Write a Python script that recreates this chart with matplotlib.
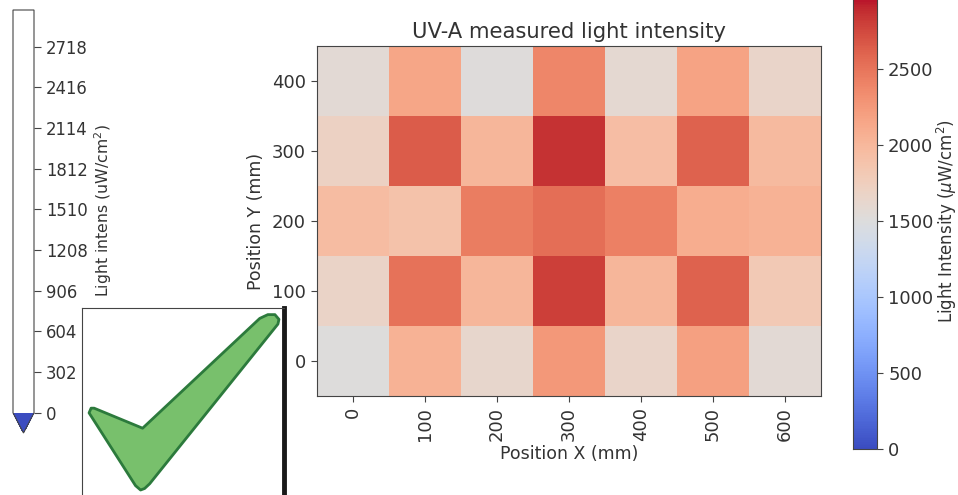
import numpy as np
import matplotlib
matplotlib.use("Agg")
import matplotlib.pyplot as plt
from matplotlib.colors import ListedColormap, Normalize
from matplotlib.cm import ScalarMappable
from matplotlib.patches import Polygon

x_pos = [0, 100, 200, 300, 400, 500, 600]
y_pos = [0, 100, 200, 300, 400]
# rows go from y=0 upwards
intensity = np.array([
    [1500, 2040, 1640, 2260, 1660, 2200, 1560],
    [1670, 2510, 2010, 2800, 2010, 2610, 1810],
    [1950, 1890, 2440, 2540, 2420, 2090, 2040],
    [1710, 2640, 2010, 2850, 1940, 2610, 1970],
    [1570, 2150, 1520, 2380, 1590, 2170, 1660],
])
main_ticks = [0, 500, 1000, 1500, 2000, 2500, 3000]
left_ticks = [0, 302, 604, 906, 1208, 1510, 1812, 2114, 2416, 2718]
check_x = [0.035, 0.045, 0.06, 0.30, 0.88, 0.92, 0.955, 0.975, 0.97, 0.335, 0.31, 0.29, 0.265, 0.035]
check_y = [0.445, 0.47, 0.47, 0.364, 0.945, 0.965, 0.965, 0.94, 0.915, 0.07, 0.045, 0.037, 0.06, 0.445]

W, H = 958, 495
TXT = "#333333"
plt.rcParams.update({"text.color": TXT, "axes.labelcolor": TXT, "xtick.labelcolor": TXT,
                     "ytick.labelcolor": TXT, "axes.edgecolor": "#444444",
                     "xtick.color": "#444444", "ytick.color": "#444444"})


def box(x0, y0, x1, y1):
    # pixel box (top-left origin) to figure fractions
    return [x0 / W, 1 - y1 / H, (x1 - x0) / W, (y1 - y0) / H]


fig = plt.figure(figsize=(W / 100, H / 100), dpi=100)

ax = fig.add_axes(box(317, 46, 821, 396))
im = ax.imshow(intensity, origin="lower", cmap="coolwarm", vmin=0, vmax=3000,
               extent=[-50, 650, -50, 450], aspect="auto")
ax.set_xticks(x_pos)
ax.set_xticklabels(x_pos, rotation=90, fontsize=13)
ax.set_yticks(y_pos)
ax.set_yticklabels(y_pos, fontsize=13)
ax.tick_params(length=4.5)
ax.set_xlabel("Position X (mm)", fontsize=12.5, labelpad=3)
ax.set_ylabel("Position Y (mm)", fontsize=12.5, labelpad=5)
ax.set_title("UV-A measured light intensity", fontsize=15.2, pad=6)

cax = fig.add_axes(box(853, -7, 877, 449))
cb = fig.colorbar(im, cax=cax, ticks=main_ticks)
cb.ax.tick_params(labelsize=13, length=4.5)
cb.set_label(r"Light Intensity ($\mu$W/cm$^2$)", fontsize=12, labelpad=1)

# left colorbar, everything above zero is white
left_cmap = ListedColormap(["white"])
left_cmap.set_under("#3b4cc0")
lax = fig.add_axes(box(13, 10, 34, 433))
lcb = fig.colorbar(ScalarMappable(Normalize(0, 2990), left_cmap), cax=lax, extend="min",
                   extendfrac=0.05, ticks=left_ticks)
lcb.ax.tick_params(labelsize=11.9, length=5)
fig.text(103 / W, 1 - 297 / H, "Light intens (uW/cm$^2$)", rotation=90, fontsize=11.3,
         ha="center", va="bottom")

# check mark picture laid over the corner
chk = fig.add_axes(box(82, 308, 284, 497), zorder=5)
chk.set_xlim(0, 1)
chk.set_ylim(0, 1)
chk.set_xticks([])
chk.set_yticks([])
chk.add_patch(Polygon(np.column_stack([check_x, check_y]), closed=True, facecolor="#78c06c",
                      edgecolor="#2c7a3c", linewidth=2, joinstyle="round"))
chk.spines["right"].set_linewidth(3.5)
chk.spines["right"].set_color("#1a1a1a")
chk.spines["bottom"].set_visible(False)

plt.savefig("out.png", dpi=100)
